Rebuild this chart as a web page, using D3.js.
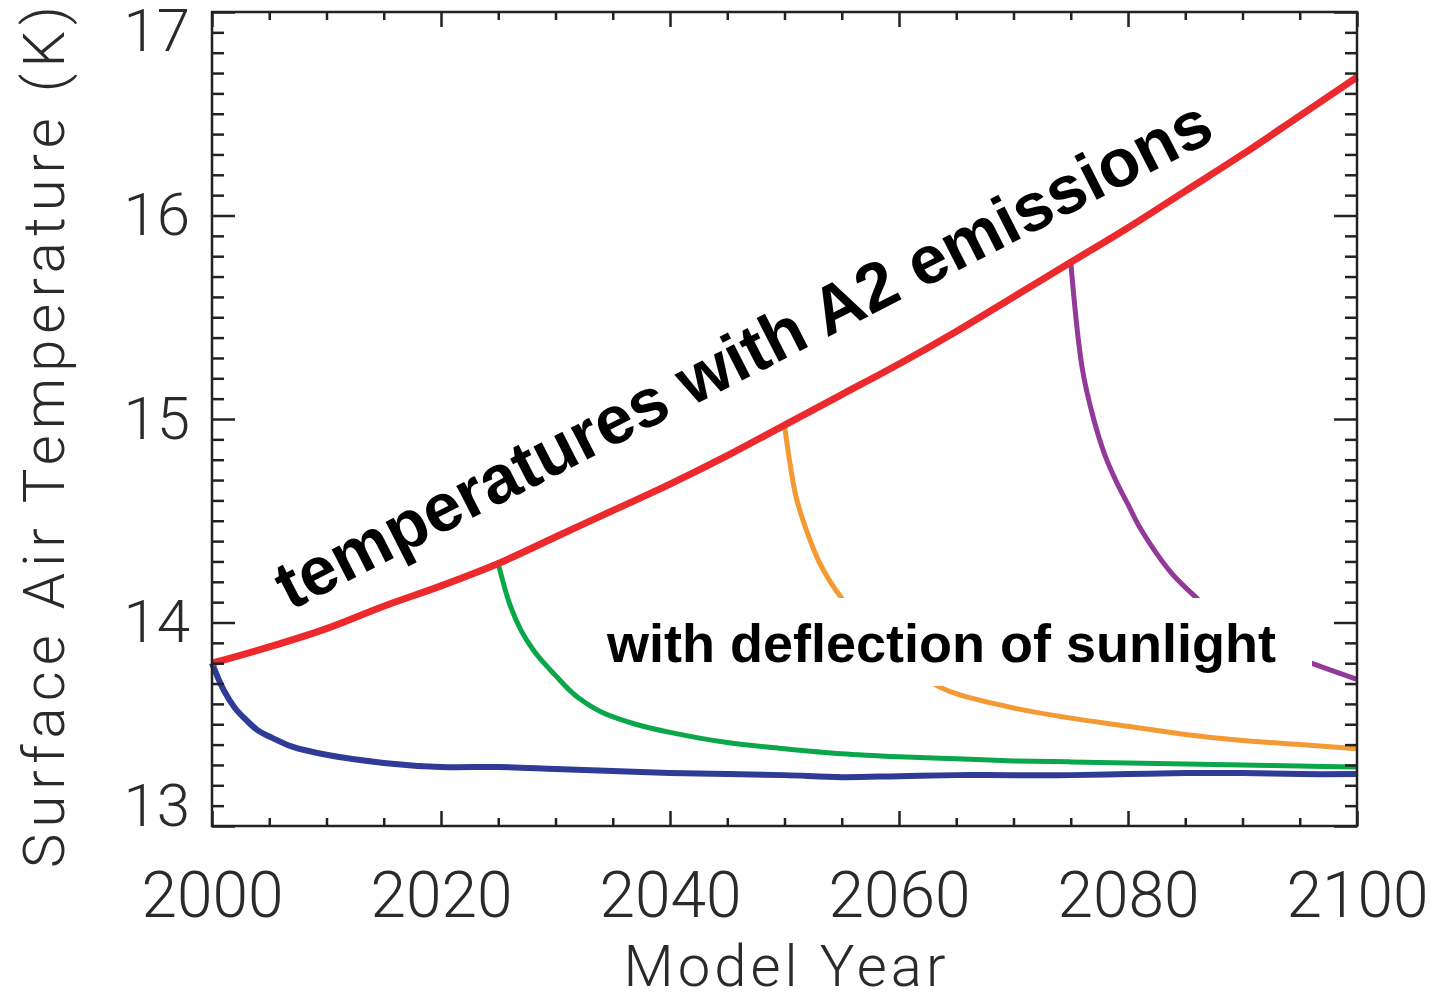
<!DOCTYPE html>
<html>
<head>
<meta charset="utf-8">
<title>Surface Air Temperature with deflection of sunlight</title>
<script src="https://cdn.jsdelivr.net/npm/d3@7"></script>
<style>
  body { margin: 0; background: #fff; }
  .axis path { display: none; }
  .axis line { stroke: #222; stroke-width: 2.5px; }
  .axis text { fill: #2a2a2a; font-family: Roboto, "DejaVu Sans", sans-serif; font-weight: 300; }
  .note { font-family: "Liberation Sans", Arial, sans-serif; font-weight: bold; fill: #000; }
</style>
</head>
<body>
<script>

  // ---- data (years, surface air temperature in K) ----
  const a2_years  = [2000, 2005, 2010, 2015, 2020, 2025, 2030, 2035, 2040, 2045, 2050,
                     2055, 2060, 2065, 2070, 2075, 2080, 2085, 2090, 2095, 2100];
  const a2_temps  = [13.80, 13.88, 13.97, 14.08, 14.18, 14.29, 14.42, 14.55, 14.68, 14.82, 14.97,
                     15.12, 15.27, 15.43, 15.60, 15.77, 15.94, 16.12, 16.30, 16.49, 16.68];

  const blue_years = [2000, 2001, 2002, 2003, 2004, 2005, 2007, 2010, 2015, 2020, 2025, 2030,
                      2035, 2040, 2045, 2050, 2055, 2060, 2065, 2070, 2075, 2080, 2085, 2090, 2095, 2100];
  const blue_temps = [13.80, 13.67, 13.58, 13.52, 13.47, 13.44, 13.39, 13.35, 13.31, 13.29, 13.29, 13.28,
                      13.27, 13.26, 13.255, 13.25, 13.24, 13.245, 13.25, 13.25, 13.25, 13.255, 13.26, 13.26, 13.255, 13.255];

  const green_years = [2025, 2026, 2027, 2028, 2029, 2030, 2031, 2032, 2034, 2037, 2040, 2045,
                       2050, 2055, 2060, 2065, 2070, 2075, 2080, 2085, 2090, 2095, 2100];
  const green_temps = [14.29, 14.09, 13.96, 13.87, 13.80, 13.74, 13.68, 13.63, 13.56, 13.50, 13.46, 13.41,
                       13.38, 13.355, 13.34, 13.33, 13.32, 13.315, 13.31, 13.305, 13.30, 13.295, 13.29];

  const orange_years = [2050, 2051, 2052, 2053, 2054, 2055, 2057, 2060, 2063, 2065, 2070,
                        2075, 2080, 2085, 2090, 2095, 2100];
  const orange_temps = [14.97, 14.62, 14.44, 14.30, 14.20, 14.12, 13.99, 13.83, 13.70, 13.65, 13.58,
                        13.53, 13.49, 13.45, 13.42, 13.40, 13.38];

  const purple_years = [2075, 2076, 2077, 2078, 2079, 2080, 2081, 2082, 2083, 2084, 2086,
                        2088, 2090, 2093, 2096, 2100];
  const purple_temps = [15.77, 15.25, 15.00, 14.82, 14.69, 14.58, 14.47, 14.38, 14.30, 14.23, 14.12,
                        14.02, 13.95, 13.86, 13.80, 13.72];

  const x_major = [2000, 2020, 2040, 2060, 2080, 2100];
  const y_major = [13, 14, 15, 16, 17];

  let width = 1436;
  let height = 995;
  let margin = {top: 12, right: 79, bottom: 169, left: 212};

  let svg = d3.select("body").append("svg")
      .attr("width", width)
      .attr("height", height);

  let x = d3.scaleLinear().domain([2000, 2100]).range([margin.left, width - margin.right]);
  let y = d3.scaleLinear().domain([13, 17]).range([height - margin.bottom, margin.top]);

  let x_minor = d3.range(2000, 2101, 5).filter(d => x_major.indexOf(d) < 0);
  let y_minor = d3.range(130, 171, 1).map(d => d / 10).filter(d => y_major.indexOf(d) < 0);

  let bottom = height - margin.bottom;
  let right = width - margin.right;

  // ---- lines ----
  let line = d3.line()
      .x(d => x(d[0]))
      .y(d => y(d[1]))
      .curve(d3.curveCatmullRom.alpha(0.5));

  function draw_series(years, temps, colour, w) {
    svg.append("path")
      .datum(d3.zip(years, temps))
      .attr("d", line)
      .attr("fill", "none")
      .attr("stroke", colour)
      .attr("stroke-width", w)
      .attr("stroke-linejoin", "round");
  }

  draw_series(blue_years, blue_temps, "#2e3b97", 6);
  draw_series(green_years, green_temps, "#0aa64a", 5);
  draw_series(orange_years, orange_temps, "#f39a34", 5);
  draw_series(purple_years, purple_temps, "#92399a", 5);
  draw_series(a2_years, a2_temps, "#ec2a2e", 7);

  // ---- axes (ticks inward on all four sides) ----
  function add_axis(axis, tx, ty) {
    return svg.append("g")
      .attr("class", "axis")
      .attr("transform", "translate(" + tx + "," + ty + ")")
      .call(axis);
  }

  add_axis(d3.axisBottom(x).tickValues(x_minor).tickSize(-8).tickFormat(""), 0, bottom);
  add_axis(d3.axisTop(x).tickValues(x_minor).tickSize(-8).tickFormat(""), 0, margin.top);
  add_axis(d3.axisTop(x).tickValues(x_major).tickSize(-15).tickFormat(""), 0, margin.top);
  add_axis(d3.axisLeft(y).tickValues(y_minor).tickSize(-12).tickFormat(""), margin.left, 0);
  add_axis(d3.axisRight(y).tickValues(y_minor).tickSize(-12).tickFormat(""), right, 0);
  add_axis(d3.axisRight(y).tickValues(y_major).tickSize(-23).tickFormat(""), right, 0);

  let xa = add_axis(d3.axisBottom(x).tickValues(x_major).tickSize(-15).tickPadding(46)
      .tickFormat(d3.format("d")), 0, bottom);
  xa.selectAll("text").style("font-size", "64px");

  let ya = add_axis(d3.axisLeft(y).tickValues(y_major).tickSize(-23).tickPadding(22)
      .tickFormat(d3.format("d")), margin.left, 0);
  ya.selectAll("text")
      .style("font-size", "60px")
      .attr("y", d => d === 17 ? 19 : d === 13 ? -20 : 0);

  // frame
  svg.append("rect")
      .attr("x", margin.left)
      .attr("y", margin.top)
      .attr("width", right - margin.left)
      .attr("height", bottom - margin.top)
      .attr("fill", "none")
      .attr("stroke", "#222")
      .attr("stroke-width", 2.5);

  // axis titles
  svg.append("text")
      .attr("x", (margin.left + right) / 2)
      .attr("y", 986)
      .attr("text-anchor", "middle")
      .attr("textLength", 322)
      .attr("lengthAdjust", "spacing")
      .style("font-family", "Roboto, 'DejaVu Sans', sans-serif")
      .style("font-weight", 300)
      .style("font-size", "58px")
      .style("fill", "#2a2a2a")
      .text("Model Year");

  svg.append("text")
      .attr("transform", "translate(64,437) rotate(-90)")
      .attr("text-anchor", "middle")
      .attr("textLength", 862)
      .attr("lengthAdjust", "spacing")
      .style("font-family", "Roboto, 'DejaVu Sans', sans-serif")
      .style("font-weight", 300)
      .style("font-size", "58px")
      .style("fill", "#2a2a2a")
      .text("Surface Air Temperature (K)");

  // ---- annotations ----
  svg.append("rect")
      .attr("x", 592)
      .attr("y", 598)
      .attr("width", 720)
      .attr("height", 88)
      .attr("fill", "#fff");

  svg.append("text")
      .attr("class", "note")
      .attr("x", 607)
      .attr("y", 662)
      .style("font-size", "54px")
      .text("with deflection of sunlight");

  svg.append("text")
      .attr("class", "note")
      .attr("transform", "translate(290,611) rotate(-27)")
      .style("font-size", "68px")
      .text("temperatures with A2 emissions");

</script>
</body>
</html>
